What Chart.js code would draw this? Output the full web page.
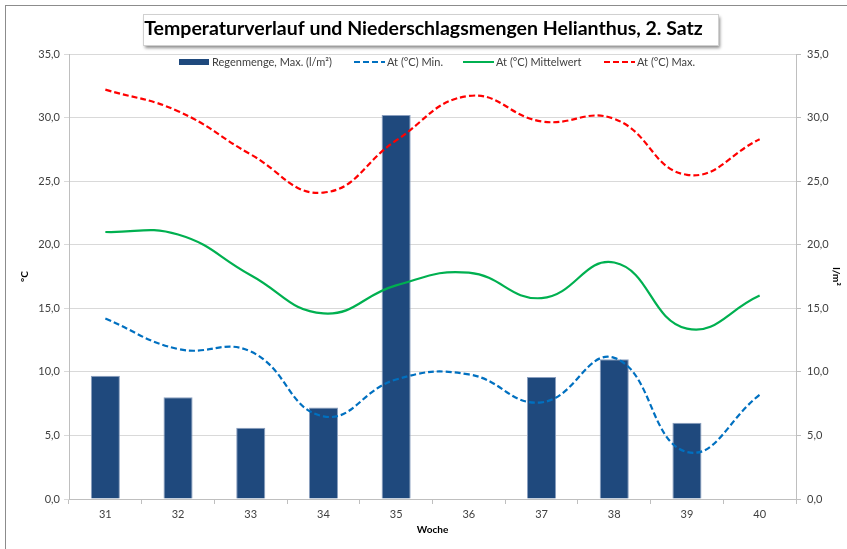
<!DOCTYPE html>
<html>
<head>
<meta charset="utf-8">
<script src="https://cdn.jsdelivr.net/npm/chart.js@4.4.1/dist/chart.umd.min.js"></script>
<style>
  html, body { margin: 0; padding: 0; background: #fff; }
  #wrap { width: 847px; height: 549px; position: relative; }
</style>
</head>
<body>
<div id="wrap"><canvas id="chart" width="847" height="549"></canvas></div>
<script>
// Daten
const weeks = ['31', '32', '33', '34', '35', '36', '37', '38', '39', '40']
const rain = [9.7, 8.0, 5.6, 7.2, 30.2, null, 9.6, 11.0, 6.0, null]
const tempMin = [14.2, 11.8, 11.6, 6.5, 9.4, 9.8, 7.6, 11.1, 3.7, 8.2]
const tempMean = [21.0, 20.8, 17.6, 14.6, 16.8, 17.8, 15.8, 18.6, 13.4, 16.0]
const tempMax = [32.2, 30.5, 27.1, 24.1, 28.2, 31.7, 29.7, 29.9, 25.5, 28.3]

const titleText = 'Temperaturverlauf und Niederschlagsmengen Helianthus, 2. Satz'
const FONT = 'Lato, "Open Sans", sans-serif'

const fmt = v => v.toFixed(1).replace('.', ',')

// Rahmen, Titelbox und Legende
const decor = {
    id: 'decor',
    beforeDraw(chart) {
        const ctx = chart.ctx
        ctx.save()
        ctx.strokeStyle = '#8c8c8c'
        ctx.lineWidth = 1
        ctx.strokeRect(5.5, 5.5, 1000, 1000)
        // Titelbox mit Schatten
        ctx.shadowColor = 'rgba(0,0,0,0.45)'
        ctx.shadowOffsetX = 2
        ctx.shadowOffsetY = 3
        ctx.shadowBlur = 3
        ctx.fillStyle = '#fff'
        ctx.fillRect(143, 14, 575, 31)
        ctx.shadowColor = 'transparent'
        ctx.strokeStyle = '#d0d0d0'
        ctx.strokeRect(143.5, 14.5, 575, 31)
        ctx.restore()
    },
    afterDraw(chart) {
        const ctx = chart.ctx
        const xs = [179, 354, 463, 604]
        const y = 62
        ctx.save()
        ctx.font = '11px ' + FONT
        ctx.textBaseline = 'middle'
        chart.data.datasets.forEach((ds, i) => {
            const x = xs[i]
            if (ds.type === 'bar') {
                ctx.fillStyle = ds.backgroundColor
                ctx.fillRect(x, y - 3, 30, 6)
            } else {
                ctx.strokeStyle = ds.borderColor
                ctx.lineWidth = 2
                ctx.setLineDash(ds.borderDash || [])
                ctx.beginPath()
                ctx.moveTo(x, y)
                ctx.lineTo(x + 31, y)
                ctx.stroke()
                ctx.setLineDash([])
            }
            ctx.fillStyle = '#404040'
            ctx.fillText(ds.label, x + 33, y)
        })
        ctx.restore()
    }
}

const ctx = document.querySelector('#chart')

const myChart = new Chart(ctx, {
    data: {
        labels: weeks,
        datasets: [
            {
                type: 'bar',
                label: 'Regenmenge, Max. (l/m²)',
                data: rain,
                yAxisID: 'y1',
                backgroundColor: '#1f497d',
                borderColor: '#8a9fbf',
                borderWidth: 1,
                barPercentage: 0.4,
                categoryPercentage: 1,
                order: 2
            },
            {
                type: 'line',
                label: 'At (°C) Min.',
                data: tempMin,
                yAxisID: 'y',
                borderColor: '#0070c0',
                borderWidth: 2.2,
                borderDash: [6, 3],
                pointRadius: 0,
                tension: 0.45,
                fill: false,
                order: 1
            },
            {
                type: 'line',
                label: 'At (°C) Mittelwert',
                data: tempMean,
                yAxisID: 'y',
                borderColor: '#00b050',
                borderWidth: 2.2,
                pointRadius: 0,
                tension: 0.45,
                fill: false,
                order: 1
            },
            {
                type: 'line',
                label: 'At (°C) Max.',
                data: tempMax,
                yAxisID: 'y',
                borderColor: '#ff0000',
                borderWidth: 2.2,
                borderDash: [6, 3],
                pointRadius: 0,
                tension: 0.45,
                fill: false,
                order: 1
            }
        ]
    },
    options: {
        responsive: false,
        animation: false,
        layout: { padding: 0 },
        plugins: {
            legend: { display: false },
            tooltip: { enabled: false },
            title: {
                display: true,
                text: titleText,
                color: '#000',
                font: { family: FONT, size: 19.5, weight: 'bold', lineHeight: 1.2 },
                padding: { top: 17, bottom: 13.6 }
            }
        },
        scales: {
            x: {
                offset: true,
                grid: { display: true, drawOnChartArea: false, offset: true, tickLength: 5, color: '#bfbfbf' },
                border: { color: '#bfbfbf' },
                ticks: { color: '#404040', font: { family: FONT, size: 11 }, padding: 4 },
                title: { display: true, text: 'Woche', color: '#000', font: { family: FONT, size: 10, weight: 'bold' }, padding: { top: 0, bottom: 13 } },
                afterFit: s => { s.height = 50 }
            },
            y: {
                position: 'left',
                min: 0,
                max: 35,
                ticks: { stepSize: 5, color: '#404040', font: { family: FONT, size: 11 }, padding: 4, callback: v => fmt(v) },
                grid: { color: '#d9d9d9', tickLength: 5 },
                border: { color: '#bfbfbf' },
                title: { display: true, text: '°C', color: '#000', font: { family: FONT, size: 10, weight: 'bold' }, padding: { top: 19, bottom: 0 } },
                afterFit: s => { s.width = 69 }
            },
            y1: {
                position: 'right',
                min: 0,
                max: 35,
                ticks: { stepSize: 5, color: '#404040', font: { family: FONT, size: 11 }, padding: 6, callback: v => fmt(v) },
                grid: { drawOnChartArea: false, tickLength: 5, color: '#bfbfbf' },
                border: { color: '#bfbfbf' },
                title: { display: true, text: 'l/m²', color: '#000', font: { family: FONT, size: 10, weight: 'bold' }, padding: { top: 5, bottom: 0 } },
                afterFit: s => { s.width = 51 }
            }
        }
    },
    plugins: [decor]
})
</script>
</body>
</html>
